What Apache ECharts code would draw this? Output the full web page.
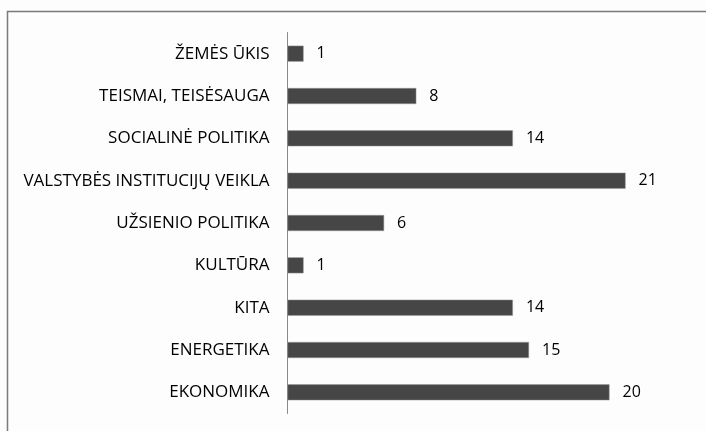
<!DOCTYPE html>
<html><head><meta charset="utf-8">
<script src="https://cdn.jsdelivr.net/npm/echarts@6/dist/echarts.min.js"></script>
<style>html,body{margin:0;padding:0;background:#fff}#c{width:706px;height:431px}</style>
</head><body><div id="c"></div>
<script>
const categories = ["ŽEMĖS ŪKIS","TEISMAI, TEISĖSAUGA","SOCIALINĖ POLITIKA","VALSTYBĖS INSTITUCIJŲ VEIKLA","UŽSIENIO POLITIKA","KULTŪRA","KITA","ENERGETIKA","EKONOMIKA"];
const values = [1,8,14,21,6,1,14,15,20];

const chart = echarts.init(document.getElementById('c'), null, {renderer:'canvas'});
chart.setOption({
  backgroundColor:'#fdfdfd',
  animation:false,
  graphic:[{type:'rect',shape:{x:7.5,y:11.5,width:720,height:440},style:{fill:'none',stroke:'#7a7a7a',lineWidth:1.5},z:-1}],
  grid:{left:287.5,top:32.5,bottom:17.5,right:16,containLabel:false},
  xAxis:{type:'value',min:0,max:25,show:false,splitLine:{show:false}},
  yAxis:{type:'category',data:categories,inverse:true,
    axisLine:{show:true,lineStyle:{color:'#8a8a8a',width:1}},
    axisTick:{show:false},
    axisLabel:{margin:18,color:'#000',fontFamily:'Open Sans',fontSize:17}},
  series:[{type:'bar',data:values,barWidth:16,
    itemStyle:{color:'#464646',borderColor:'#9a9a9a',borderWidth:0.5},
    label:{show:true,position:'right',distance:13,color:'#000',fontFamily:'Open Sans',fontSize:16}}]
});
</script></body></html>
